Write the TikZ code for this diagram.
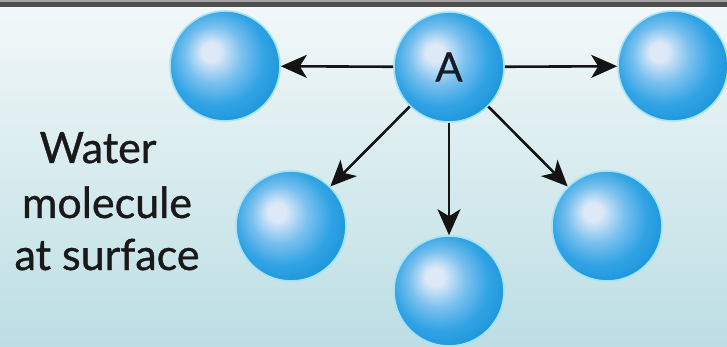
\documentclass[tikz,border=0pt]{standalone}
\usepackage{fontspec}
\setmainfont{Lato}
\newfontfamily\lblfont[FakeBold=0.9]{Lato}
\usetikzlibrary{arrows.meta}
\definecolor{bgtop}{RGB}{243,248,249}
\definecolor{bgbot}{RGB}{188,222,228}
\definecolor{sphhi}{RGB}{222,233,248}
\definecolor{sphlt}{RGB}{120,192,238}
\definecolor{sphmid}{RGB}{48,163,228}
\definecolor{sphdk}{RGB}{18,142,214}
\definecolor{halo}{RGB}{165,228,246}
\definecolor{toplt}{RGB}{165,165,165}
\definecolor{topdk}{RGB}{78,78,78}
\definecolor{txt}{RGB}{25,25,25}
\definecolor{atxt}{RGB}{20,28,40}
\pgfdeclareradialshading{sph}{\pgfpoint{-7bp}{7bp}}{color(0bp)=(sphhi);color(4bp)=(sphhi);color(13bp)=(sphlt);color(22bp)=(sphmid);color(34bp)=(sphdk);color(50bp)=(sphdk)}
\begin{document}
\begin{tikzpicture}[x=1pt,y=-1pt,
  mol/.style={circle, minimum size=110pt, inner sep=0pt, shade, shading=sph,
    draw=halo, line width=1.6pt, text=atxt, font=\lblfont\fontsize{40}{40}\selectfont},
  arr/.style={-{Stealth[length=26pt,width=23pt,inset=7pt]}, line width=2.6pt, draw=black!92},
  lbl/.style={anchor=base, inner sep=0pt, text=txt, font=\lblfont\fontsize{43}{43}\selectfont}]
\useasboundingbox (0,0) rectangle (727,347);
\shade[top color=bgtop, bottom color=bgbot] (0,0) rectangle (727,347);
\fill[toplt] (0,0) rectangle (727,2);
\fill[topdk] (0,2) rectangle (727,7);
\node[mol] (A) at (449,67) {A};
\node[mol] (L) at (225,66) {};
\node[mol] (R) at (673,66) {};
\node[mol] (LL) at (291,226) {};
\node[mol] (LR) at (607,226) {};
\node[mol] (B) at (449,291) {};
\draw[arr] (A) -- (L);
\draw[arr] (A) -- (R);
\draw[arr] (A) -- (LL);
\draw[arr] (A) -- (LR);
\draw[arr] (A) -- (B);
\node[lbl] (t1) at (98,163) {Water};
\node[lbl] (t2) at (107,218) {molecule};
\node[lbl] (t3) at (107,270) {at surface};
\end{tikzpicture}
\end{document}
